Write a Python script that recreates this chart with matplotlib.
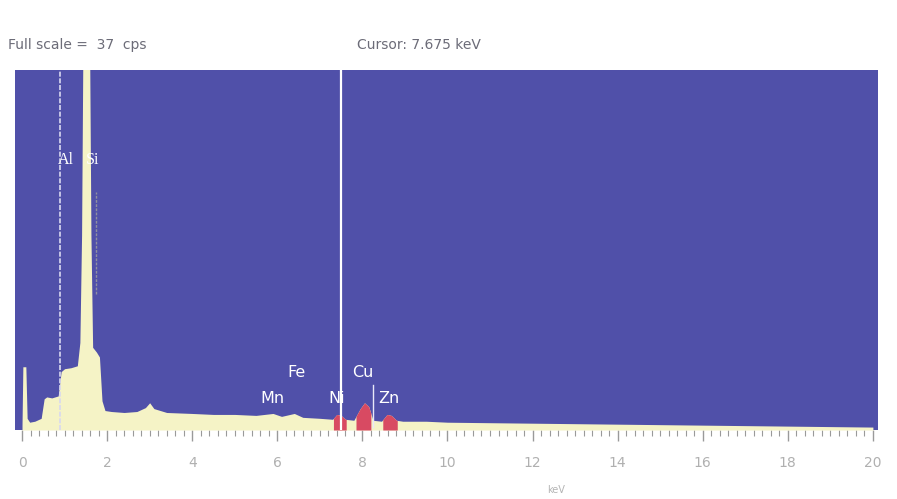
import matplotlib
matplotlib.use("Agg")
import matplotlib.pyplot as plt
import numpy as np
from matplotlib.ticker import MultipleLocator

# ---- data ----
energy_kev = [0.00, 0.02, 0.05, 0.09, 0.12, 0.18, 0.30, 0.45, 0.52, 0.58, 0.70, 0.85,
              0.92, 1.00, 1.15, 1.30, 1.36, 1.40, 1.44, 1.58, 1.62, 1.66, 1.75, 1.82,
              1.88, 1.95, 2.10, 2.40, 2.70, 2.90, 3.00, 3.10, 3.40, 4.00, 4.50, 5.00,
              5.50, 5.90, 6.10, 6.40, 6.60, 7.00, 7.30, 7.40, 7.50, 7.60, 7.80, 7.95,
              8.05, 8.15, 8.25, 8.45, 8.58, 8.68, 8.80, 8.95, 9.50, 10.0, 12.0, 14.0,
              16.0, 18.0, 20.0]
counts_cps = [0.5, 6.5, 6.5, 6.5, 1.2, 0.8, 0.9, 1.2, 3.2, 3.4, 3.3, 3.5,
              6.0, 6.3, 6.4, 6.6, 9.0, 20.0, 45.0, 45.0, 20.0, 8.5, 8.0, 7.5,
              3.0, 2.0, 1.9, 1.8, 1.9, 2.3, 2.8, 2.2, 1.8, 1.7, 1.6, 1.6,
              1.5, 1.7, 1.4, 1.7, 1.3, 1.2, 1.1, 1.6, 1.5, 1.1, 1.0, 2.2,
              2.8, 2.4, 1.0, 0.9, 1.6, 1.5, 1.0, 0.9, 0.9, 0.8, 0.7, 0.6,
              0.5, 0.4, 0.3]

red_ranges = [(7.32, 7.62), (7.85, 8.2), (8.48, 8.82)]

peak_labels = ["Al", "Si", "Fe", "Cu", "Mn", "Ni", "Zn"]
label_x = [1.02, 1.66, 6.44, 8.02, 5.88, 7.40, 8.63]
label_y = [27.7, 27.7, 5.9, 5.9, 3.2, 3.2, 3.2]

cursor_kev = 7.5
marker_kev = 0.89
full_scale = 37
tick_labels = ["0", "2", "4", "6", "8", "10", "12", "14", "16", "18", "20"]

# ---- figure ----
fig = plt.figure(figsize=(8.97, 4.99), dpi=100)
fig.patch.set_facecolor("white")
ax = fig.add_axes([15/897, 1-430/499, (878-15)/897, (430-70)/499])
ax.set_facecolor("#5050a9")
ax.set_xlim(-0.165, 20.12)
ax.set_ylim(0, full_scale)

E = np.array(energy_kev)
C = np.array(counts_cps)
ax.fill_between(E, 0, C, color="#f5f3c6", linewidth=0, zorder=2)
for lo, hi in red_ranges:
    ex = np.linspace(lo, hi, 40)
    ax.fill_between(ex, 0, np.interp(ex, E, C), color="#d84a62", linewidth=0, zorder=3)

# marker / cursor lines
ax.axvline(marker_kev, color="#d8d8f0", lw=1.2, ls=(0, (3, 1)), zorder=4)
ax.axvline(cursor_kev, color="white", lw=1.6, zorder=4)
ax.plot([1.75, 1.75], [14, 24.5], color="#9090a0", lw=1.0, ls=(0, (2, 1)), zorder=4)
ax.plot([8.25, 8.25], [0.3, 4.6], color="#e8e8f8", lw=1.0, zorder=4)

for i, lab in enumerate(peak_labels):
    fam = "Liberation Serif" if lab in ("Al", "Si") else "DejaVu Sans"
    ax.text(label_x[i], label_y[i], lab, color="white", fontsize=11.5,
            ha="center", va="center", family=fam, zorder=5)

for s in ax.spines.values():
    s.set_visible(False)
ax.set_yticks([])
ax.xaxis.set_major_locator(MultipleLocator(2))
ax.xaxis.set_minor_locator(MultipleLocator(0.2))
ax.set_xticks(np.arange(0, 21, 2))
ax.set_xticklabels(tick_labels, color="#b0b0b0", fontsize=10)
ax.tick_params(axis="x", which="major", length=8, width=1, color="#9a9a9a", pad=11)
ax.tick_params(axis="x", which="minor", length=4, width=0.8, color="#9a9a9a")

fig.text(8/897, 1-45/499, "Full scale =  37  cps", fontsize=10, color="#6c6c78",
         ha="left", va="center")
fig.text(357/897, 1-45/499, "Cursor: 7.675 keV", fontsize=10, color="#6c6c78",
         ha="left", va="center")
fig.text(556/897, 1-490/499, "keV", fontsize=7, color="#b4b4b4", ha="center", va="center")

fig.savefig("out.png", dpi=100, facecolor="white")
